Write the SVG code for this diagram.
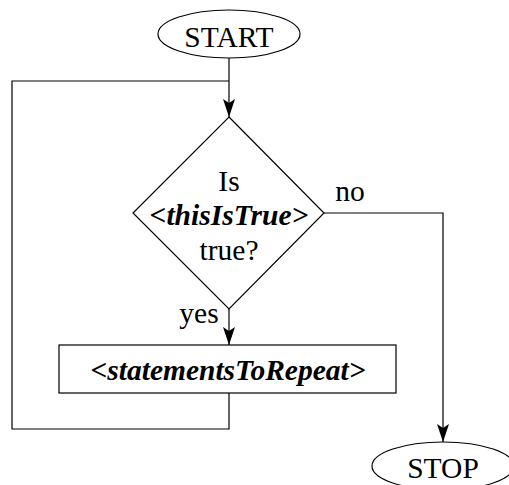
<svg xmlns="http://www.w3.org/2000/svg" width="509" height="485" viewBox="0 0 509 485">
  <style>
    .shape { fill: #ffffff; stroke: #000000; stroke-width: 1.2; }
    .wire { fill: none; stroke: #000000; stroke-width: 1.2; }
    .lbl { font-family: "Liberation Serif", "Times New Roman", serif; font-size: 29.5px; fill: #000000; text-anchor: middle; }
    .code { font-weight: bold; font-style: italic; }
  </style>
  <defs>
    <marker id="arrow" viewBox="0 0 18 12" refX="18" refY="6" markerWidth="18" markerHeight="12" markerUnits="userSpaceOnUse" orient="auto">
      <path d="M0,0 L18,6 L0,12 L4,6 Z" fill="#000000"/>
    </marker>
  </defs>
  <rect width="509" height="485" fill="#ffffff"/>

  <g id="connectors">
    <path class="wire" d="M229,58 V117" marker-end="url(#arrow)"/>
    <path class="wire" d="M229,393 V429 H12 V81 H229"/>
    <path class="wire" d="M229,309 V345" marker-end="url(#arrow)"/>
    <path class="wire" d="M324,213 H443 V442" marker-end="url(#arrow)"/>
    <text class="lbl" x="350" y="201">no</text>
    <text class="lbl" x="199" y="323">yes</text>
  </g>

  <g id="start">
    <ellipse class="shape" cx="229" cy="34" rx="71" ry="24"/>
    <text class="lbl" x="229" y="47">START</text>
  </g>

  <g id="condition">
    <polygon class="shape" points="229,117 324,213 229,309 133,213"/>
    <text class="lbl" x="229" y="191">Is</text>
    <text class="lbl code" x="229" y="225">&lt;thisIsTrue&gt;</text>
    <text class="lbl" x="229" y="260">true?</text>
  </g>

  <g id="body">
    <rect class="shape" x="59" y="345" width="337" height="48"/>
    <text class="lbl code" x="228" y="380">&lt;statementsToRepeat&gt;</text>
  </g>

  <g id="stop">
    <ellipse class="shape" cx="443" cy="466" rx="71" ry="24"/>
    <text class="lbl" x="443" y="478">STOP</text>
  </g>
</svg>
